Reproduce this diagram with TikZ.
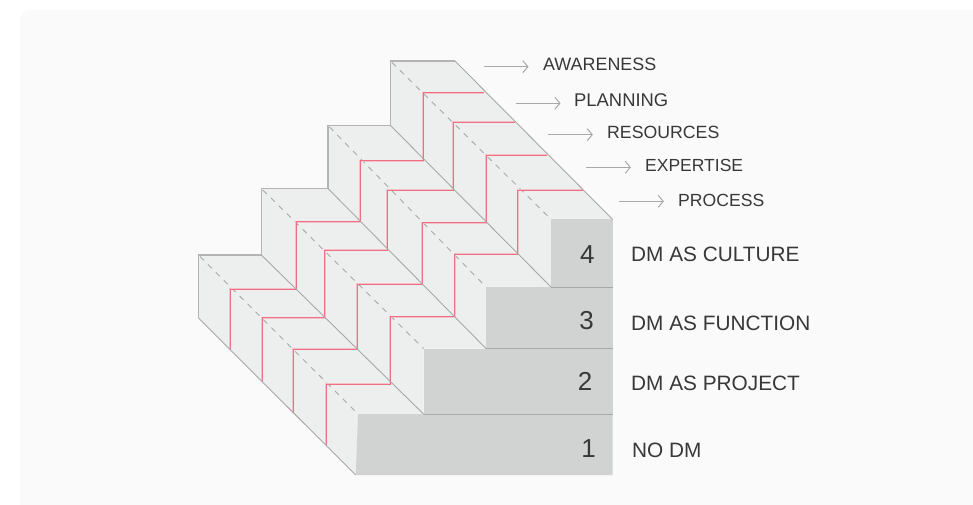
\documentclass[tikz,border=0pt]{standalone}
\usepackage{fontspec}
\setmainfont{Liberation Sans}
\usetikzlibrary{arrows.meta}
\definecolor{bgpanel}{HTML}{FAFAFA}
\definecolor{sideface}{HTML}{EDEEEE}
\definecolor{frontface}{HTML}{D1D2D2}
\definecolor{edgegray}{HTML}{A8A8A8}
\definecolor{outergray}{HTML}{B4B4B4}
\definecolor{redline}{HTML}{EC7082}
\definecolor{redhalo}{HTML}{F5C0C7}
\definecolor{txt}{HTML}{383838}
\tikzset{
  x=1pt,y=-1pt,
  blockside/.style={fill=sideface,draw=none},
  blockfront/.style={fill=frontface,draw=none},
  outeredge/.style={draw=outergray,line width=1.05pt,line join=miter},
  edge/.style={draw=edgegray,line width=0.9pt},
  hairline/.style={draw=edgegray,line width=0.8pt},
  dashline/.style={draw=edgegray,line width=0.9pt,dash pattern=on 5.5pt off 5.7pt},
  redzig/.style={preaction={draw=redhalo,line width=1.7pt},draw=redline,line width=0.8pt,line join=miter},
  arr/.style={draw=edgegray,line width=0.9pt,-{Straight Barb[length=5pt,width=12pt,line width=1pt]}},
  lab/.style={font=\fontsize{20.8}{20.8}\selectfont,text=txt,inner sep=0pt,anchor=base west},
  stacklab/.style={font=\fontsize{#1}{#1}\selectfont,text=txt,inner sep=0pt,anchor=base west},
  num/.style={font=\fontsize{26}{26}\selectfont,text=txt,inner sep=0pt,anchor=base},
}
\begin{document}
\begin{tikzpicture}
\useasboundingbox (0,0) rectangle (973,505);
\fill[white] (0,0) rectangle (973,505);
\fill[bgpanel,rounded corners=11pt] (20,10) rectangle (1000,540);
\clip (0,0) rectangle (973,505);
% step 1
\fill[blockside] (198.5,255) -- (261.3,255) -- (423.5,414) -- (358,414) -- (355.7,475) -- (198.5,318) -- cycle;
\fill[blockfront] (358,414) -- (612.5,414) -- (612.5,475) -- (355.7,475) -- cycle;
% step 2
\fill[blockside] (261.3,188.5) -- (328,188.5) -- (486,348.5) -- (423.5,348.5) -- (423.5,414) -- (261.3,255) -- cycle;
\fill[blockfront] (423.5,348.5) -- (612.5,348.5) -- (612.5,414) -- (423.5,414) -- cycle;
% step 3
\fill[blockside] (328,125.7) -- (390.7,125.7) -- (551,287) -- (486,287) -- (486,348.5) -- (328,188.5) -- cycle;
\fill[blockfront] (486,287) -- (612.5,287) -- (612.5,348.5) -- (486,348.5) -- cycle;
% step 4
\fill[blockside] (390.7,61) -- (455,61) -- (612.5,219.3) -- (551,219.3) -- (551,287) -- (390.7,125.7) -- cycle;
\fill[blockfront] (551,219.3) -- (612.5,219.3) -- (612.5,287) -- (551,287) -- cycle;
% dashed
\draw[dashline] (392,62.5) -- (551,219.3);
\draw[dashline] (329.5,127) -- (486,287);
\draw[dashline] (262.8,190) -- (423.5,348.5);
\draw[dashline] (200,256.5) -- (358,414);
% red zigzags
\draw[redzig] (230,350) -- (230,289) -- (296,289) -- (296,221.7) -- (360,221.7) -- (360,160.7) -- (423.3,160.7) -- (423.3,92.7) -- (484,92.7);
\draw[redzig] (262.3,381.7) -- (262.3,317.7) -- (324.7,317.7) -- (324.7,250) -- (387.3,250) -- (387.3,190) -- (453.3,190) -- (453.3,122) -- (514.7,122);
\draw[redzig] (293,412.7) -- (293,349.3) -- (357.3,349.3) -- (357.3,284.3) -- (422.3,284.3) -- (422.3,222.7) -- (486,222.7) -- (486,155) -- (547.3,155);
\draw[redzig] (326,445) -- (326,384) -- (390.3,384) -- (390.3,316.7) -- (454.7,316.7) -- (454.7,254.3) -- (517.7,254.3) -- (517.7,190) -- (582.7,190);
% edges
\draw[outeredge] (198.5,318) -- (198.5,255) -- (261.3,255) -- (261.3,188.5) -- (328,188.5) -- (328,125.7) -- (390.7,125.7) -- (390.7,61) -- (455,61);
\draw[edge] (455,61) -- (612.5,219.3);
\draw[edge] (198.5,318) -- (355.7,475);
\draw[edge] (261.3,255) -- (423.5,414);
\draw[edge] (328,188.5) -- (486,348.5);
\draw[edge] (390.7,125.7) -- (551,287);
\draw[hairline] (423.5,414) -- (612.5,414);
\draw[hairline] (486,348.5) -- (612.5,348.5);
\draw[hairline] (551,287) -- (612.5,287);
% numbers
\node[num] (n4) at (587.3,263.5) {4};
\node[num] (n3) at (586.7,329) {3};
\node[num] (n2) at (585,390) {2};
\node[num] (n1) at (588.5,457.7) {1};
% labels
\node[lab] (l4) at (631,261.7) {DM AS CULTURE};
\node[lab] (l3) at (631,330) {DM AS FUNCTION};
\node[lab] (l2) at (631,390) {DM AS PROJECT};
\node[lab] (l1) at (632,457) {NO DM};
\node[stacklab=17.9] (a) at (543,71) {AWARENESS};
\node[stacklab=18.4] (b) at (574,107) {PLANNING};
\node[stacklab=17.7] (c) at (607,139) {RESOURCES};
\node[stacklab=17.5] (d) at (645,171.7) {EXPERTISE};
\node[stacklab=17.6] (e) at (678,206) {PROCESS};
\coordinate (as) at (484.3,66.7);
\coordinate (ae) at (528.5,66.7);
\coordinate (bs) at (515.7,103.3);
\coordinate (be) at (560.5,103.3);
\coordinate (cs) at (548.3,134.7);
\coordinate (ce) at (592.9,134.7);
\coordinate (ds) at (586.3,167.3);
\coordinate (de) at (630.9,167.3);
\coordinate (es) at (619,201.3);
\coordinate (ee) at (663.9,201.3);
\draw[arr] (as) -- (ae);
\draw[arr] (bs) -- (be);
\draw[arr] (cs) -- (ce);
\draw[arr] (ds) -- (de);
\draw[arr] (es) -- (ee);
\end{tikzpicture}
\end{document}
